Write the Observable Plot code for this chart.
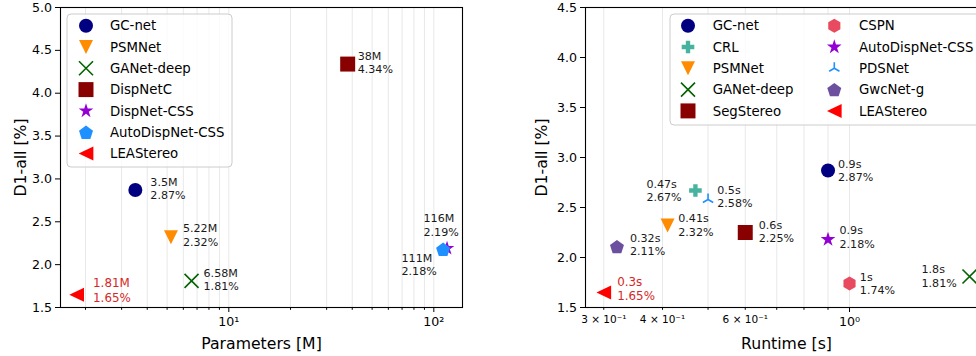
<!DOCTYPE html>
<html>
<head>
<meta charset="utf-8">
<script src="https://cdn.jsdelivr.net/npm/d3@7"></script>
<script src="https://cdn.jsdelivr.net/npm/@observablehq/plot@0.6"></script>
<style>
  body { margin: 0; background: #fff; }
  #wrap { position: relative; width: 976px; height: 356px; overflow: hidden; background: #fff; }
  #wrap svg { position: absolute; top: 0; }
</style>
</head>
<body>
<div id="wrap"></div>
<script>
// ---------------- DATA ----------------
// Left panel: parameters vs D1-all
const paramModels = ["GC-net", "PSMNet", "GANet-deep", "DispNetC", "DispNet-CSS", "AutoDispNet-CSS", "LEAStereo"];
const paramValues = [3.5, 5.22, 6.58, 38, 116, 111, 1.81];
const paramErrors = [2.87, 2.32, 1.81, 4.34, 2.19, 2.18, 1.65];

// Right panel: runtime vs D1-all
const runtimeModels = ["GC-net", "CRL", "PSMNet", "GANet-deep", "SegStereo", "CSPN", "AutoDispNet-CSS", "PDSNet", "GwcNet-g", "LEAStereo"];
const runtimeValues = [0.9, 0.47, 0.41, 1.8, 0.6, 1.0, 0.9, 0.5, 0.32, 0.3];
const runtimeErrors = [2.87, 2.67, 2.32, 1.81, 2.25, 1.74, 2.18, 2.58, 2.11, 1.65];

// Tick values / labels
const yTicksLeft = [1.5, 2.0, 2.5, 3.0, 3.5, 4.0, 4.5, 5.0];
const yTicksRight = [1.5, 2.0, 2.5, 3.0, 3.5, 4.0, 4.5];
const leftMajorTicks = [10, 100];
const leftMajorLabels = ["10¹", "10²"];
const leftMinorTicks = [2, 3, 4, 5, 6, 7, 8, 9, 20, 30, 40, 50, 60, 70, 80, 90];
const rightMajorTicks = [1];
const rightMajorLabels = ["10⁰"];
const rightMinorTicks = [0.3, 0.4, 0.5, 0.6, 0.7, 0.8, 0.9];
const rightMinorLabels = ["3 × 10⁻¹", "4 × 10⁻¹", "", "6 × 10⁻¹", "", "", ""];

// ---------------- STYLES ----------------
const leftStyles = [
  {color: "#000080", symbol: "circle"},
  {color: "#ff8c00", symbol: "triDown"},
  {color: "#006400", symbol: "cross", stroked: true},
  {color: "#880000", symbol: "square"},
  {color: "#9400d3", symbol: "star"},
  {color: "#1e90ff", symbol: "pentagon"},
  {color: "#ff0000", symbol: "triLeft"}
];
const rightStyles = [
  {color: "#000080", symbol: "circle"},
  {color: "#45b39d", symbol: "plus"},
  {color: "#ff8c00", symbol: "triDown"},
  {color: "#006400", symbol: "cross", stroked: true},
  {color: "#880000", symbol: "square"},
  {color: "#e84a5f", symbol: "hexagon"},
  {color: "#9400d3", symbol: "star"},
  {color: "#1e90ff", symbol: "triUp", stroked: true},
  {color: "#6d4fa0", symbol: "pentagon"},
  {color: "#ff0000", symbol: "triLeft"}
];
const leftLabelDx = [15, 12, 12, 10, -23.5, -41.6, 16.4];
const leftLabelDy = [-2, -2.4, -2, -1.6, -23.6, 15.3, -5];
const rightLabelDx = [10, -49, 10.7, -48, 13.5, 10.3, 11.5, 9.2, 13, 13.4];
const rightLabelDy = [-0.5, -0.5, -0.7, -0.7, -1, -0.5, -2.7, -3.3, -2.3, -4];

// ---------------- SYMBOLS ----------------
const TAU = 2 * Math.PI;
const rad = s => Math.sqrt(s / Math.PI);
function poly(c, pts) { pts.forEach(([x, y], i) => i ? c.lineTo(x, y) : c.moveTo(x, y)); c.closePath(); }
const mk = {
  circle: {draw(c, s) { const r = rad(s); c.moveTo(r, 0); c.arc(0, 0, r, 0, TAU); }},
  triDown: {draw(c, s) { const r = rad(s); poly(c, [[-r, -r], [r, -r], [0, r]]); }},
  triLeft: {draw(c, s) { const r = rad(s); poly(c, [[-r * 1.05, 0], [r * 1.05, -r], [r * 1.05, r]]); }},
  square: {draw(c, s) { const h = rad(s) * 1.07; poly(c, [[-h, -h], [h, -h], [h, h], [-h, h]]); }},
  cross: {draw(c, s) { const r = rad(s); c.moveTo(-r, -r); c.lineTo(r, r); c.moveTo(-r, r); c.lineTo(r, -r); }},
  star: {draw(c, s) {
    const R = rad(s) * 1.1, q = R * 0.382, pts = [];
    for (let i = 0; i < 10; i++) { const a = -Math.PI / 2 + i * Math.PI / 5, rr = i % 2 ? q : R; pts.push([rr * Math.cos(a), rr * Math.sin(a)]); }
    poly(c, pts);
  }},
  pentagon: {draw(c, s) {
    const R = rad(s) * 1.05, pts = [];
    for (let i = 0; i < 5; i++) { const a = -Math.PI / 2 + i * TAU / 5; pts.push([R * Math.cos(a), R * Math.sin(a) + R * 0.1]); }
    poly(c, pts);
  }},
  hexagon: {draw(c, s) {
    const R = rad(s), pts = [];
    for (let i = 0; i < 6; i++) { const a = -Math.PI / 2 + i * Math.PI / 3; pts.push([R * Math.cos(a), R * Math.sin(a)]); }
    poly(c, pts);
  }},
  plus: {draw(c, s) {
    const r = rad(s), o = r * 0.9, w = r * 0.31;
    poly(c, [[-w, -o], [w, -o], [w, -w], [o, -w], [o, w], [w, w], [w, o], [-w, o], [-w, w], [-o, w], [-o, -w], [-w, -w]]);
  }},
  triUp: {draw(c, s) {
    const r = rad(s) * 0.85;
    c.moveTo(0, 0); c.lineTo(0, -r); c.moveTo(0, 0); c.lineTo(-r * 0.866, r * 0.5); c.moveTo(0, 0); c.lineTo(r * 0.866, r * 0.5);
  }}
};

const FONT = "DejaVu Sans, sans-serif";
const R = 7;
const TICK_FONT = 12.6, AXIS_FONT = 15.7, LEGEND_FONT = 13.3, NOTE_FONT = 11.1, HIGHLIGHT_FONT = 11.9;

function makePanel(cfg) {
  const rows = cfg.names.map((n, i) => ({name: n, x: cfg.xs[i], y: cfg.ys[i], ...cfg.styles[i]}));
  const marks = [
    Plot.ruleX(cfg.grid, {stroke: "#e8e8e8", strokeWidth: 1}),
    ...rows.map(d => Plot.dot([d], {
      x: "x", y: "y", r: R, symbol: mk[d.symbol],
      fill: d.stroked ? "none" : d.color,
      stroke: d.stroked ? d.color : "none",
      strokeWidth: d.stroked ? 1.6 : 0
    })),
    ...rows.map((d, i) => Plot.text([d], {
      x: "x", y: "y",
      text: r => cfg.fmtX(r.x) + "\n" + r.y.toFixed(2) + "%",
      dx: cfg.dx[i], dy: cfg.dy[i],
      textAnchor: "start", lineAnchor: "middle",
      fontSize: d.name === "LEAStereo" ? HIGHLIGHT_FONT : NOTE_FONT,
      lineHeight: d.name === "LEAStereo" ? 1.22 : 1.2,
      fill: d.name === "LEAStereo" ? "#d62728" : "#1a1a1a"
    })),
    Plot.frame({stroke: "#000", strokeWidth: 1.1}),
    Plot.axisY(cfg.yTicks, {tickSize: 5, tickPadding: 3.5, tickFormat: d3.format(".1f"), fontSize: TICK_FONT, label: null}),
    Plot.axisY({ticks: [], label: "D1-all [%]", labelAnchor: "center", labelArrow: "none", labelOffset: cfg.yLabelOffset, fontSize: AXIS_FONT}),
    Plot.axisX(cfg.minorTicks, {tickSize: 2.8, tickPadding: 5, fontSize: cfg.minorFont,
      tickFormat: v => cfg.minorLabels ? cfg.minorLabels[cfg.minorTicks.indexOf(v)] : "", label: null}),
    Plot.axisX(cfg.majorTicks, {tickSize: 5, tickPadding: 5, fontSize: TICK_FONT,
      tickFormat: v => cfg.majorLabels[cfg.majorTicks.indexOf(v)], label: null}),
    Plot.axisX({ticks: [], label: cfg.xLabel, labelAnchor: "center", labelArrow: "none", labelOffset: 41, fontSize: AXIS_FONT})
  ];
  const svg = Plot.plot({
    width: cfg.width, height: 356,
    marginLeft: cfg.marginLeft, marginRight: cfg.marginRight, marginTop: 7, marginBottom: 49,
    style: {fontFamily: FONT, fontSize: TICK_FONT + "px", color: "#000", background: "transparent", overflow: "visible"},
    x: {type: "log", domain: cfg.xDomain, axis: null},
    y: {domain: cfg.yDomain, axis: null},
    marks
  });
  return {svg, rows};
}

function addLegend(svg, rows, box, cols) {
  const g = d3.select(svg).append("g")
    .attr("font-family", FONT).attr("font-size", LEGEND_FONT + "px").attr("text-anchor", "start");
  g.append("rect").attr("x", box.x).attr("y", box.y).attr("width", box.w).attr("height", box.h)
    .attr("rx", 4).attr("fill", "#fff").attr("fill-opacity", 0.8).attr("stroke", "#cccccc").attr("stroke-width", 1);
  const perCol = Math.ceil(rows.length / cols.length);
  rows.forEach((d, i) => {
    const c = cols[Math.floor(i / perCol)], row = i % perCol;
    const y = box.y + 11.7 + row * 21.3;
    g.append("path").attr("transform", `translate(${c.marker},${y})`)
      .attr("d", d3.symbol(mk[d.symbol], Math.PI * R * R)())
      .attr("fill", d.stroked ? "none" : d.color)
      .attr("stroke", d.stroked ? d.color : "none")
      .attr("stroke-width", d.stroked ? 1.6 : 0);
    g.append("text").attr("x", c.text).attr("y", y).attr("dy", "0.36em")
      .attr("text-anchor", "start").attr("fill", "#000").text(d.name);
  });
}

const wrap = document.getElementById("wrap");

const left = makePanel({
  names: paramModels, xs: paramValues, ys: paramErrors, styles: leftStyles,
  width: 490, marginLeft: 60, marginRight: 28,
  xDomain: [1.51, 138.0], yDomain: [1.5, 5.0], yTicks: yTicksLeft,
  grid: [...leftMinorTicks, ...leftMajorTicks],
  majorTicks: leftMajorTicks, majorLabels: leftMajorLabels,
  minorTicks: leftMinorTicks, minorLabels: null, minorFont: 10.5,
  xLabel: "Parameters [M]", yLabelOffset: 46,
  fmtX: v => v + "M", dx: leftLabelDx, dy: leftLabelDy
});
left.svg.style.left = "0px";
addLegend(left.svg, left.rows, {x: 67, y: 14, w: 165, h: 153}, [{marker: 86, text: 110}]);
wrap.appendChild(left.svg);

const right = makePanel({
  names: runtimeModels, xs: runtimeValues, ys: runtimeErrors, styles: rightStyles,
  width: 500, marginLeft: 95, marginRight: 3,
  xDomain: [0.2743, 1.966], yDomain: [1.5, 4.5], yTicks: yTicksRight,
  grid: [...rightMinorTicks, ...rightMajorTicks],
  majorTicks: rightMajorTicks, majorLabels: rightMajorLabels,
  minorTicks: rightMinorTicks, minorLabels: rightMinorLabels, minorFont: 10.5,
  xLabel: "Runtime [s]", yLabelOffset: 50,
  fmtX: v => v + "s", dx: rightLabelDx, dy: rightLabelDy
});
right.svg.style.left = "490px";
addLegend(right.svg, right.rows, {x: 180, y: 14, w: 310, h: 111}, [{marker: 198, text: 222.7}, {marker: 344.3, text: 369}]);
wrap.appendChild(right.svg);
</script>
</body>
</html>
